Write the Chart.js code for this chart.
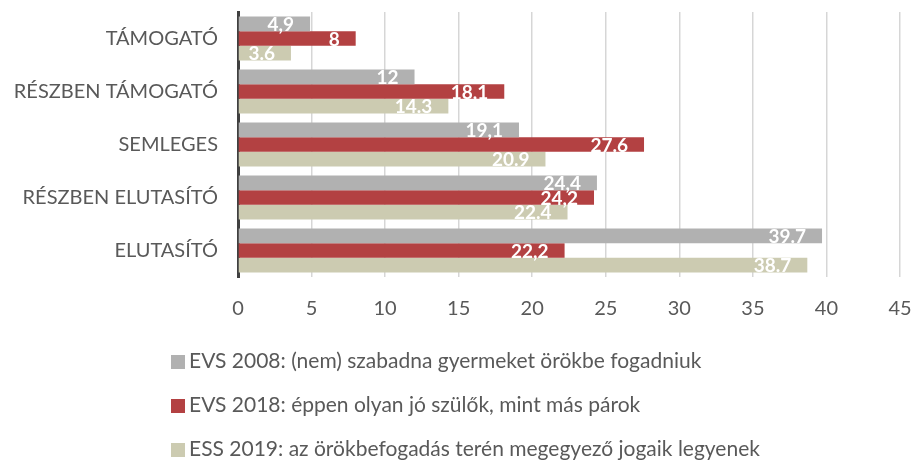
<!DOCTYPE html>
<html>
<head>
<meta charset="utf-8">
<script src="https://cdn.jsdelivr.net/npm/chart.js@4"></script>
<style>
  body { margin: 0; background: #fff; }
  .wrap { position: relative; width: 916px; height: 462px; }
  .legend { position: absolute; left: 171px; top: 348px; font-family: Lato, sans-serif; font-size: 21px; color: #595959; }
  .legend div { height: 24px; line-height: 24px; margin-bottom: 20px; white-space: nowrap; }
  .legend span { display: inline-block; width: 14px; height: 14px; margin-right: 4px; vertical-align: -1px; }
</style>
</head>
<body>
<div class="wrap">
  <canvas id="chart" width="916" height="462"></canvas>
  <div class="legend" id="legend"></div>
</div>
<script>
const categories = ['TÁMOGATÓ', 'RÉSZBEN TÁMOGATÓ', 'SEMLEGES', 'RÉSZBEN ELUTASÍTÓ', 'ELUTASÍTÓ'];
const evs2008 = [4.9, 12, 19.1, 24.4, 39.7];
const evs2018 = [8, 18.1, 27.6, 24.2, 22.2];
const ess2019 = [3.6, 14.3, 20.9, 22.4, 38.7];
// label text as printed in the source (mixed decimal marks)
const evs2008Text = ['4,9', '12', '19,1', '24,4', '39.7'];
const evs2018Text = ['8', '18,1', '27.6', '24,2', '22,2'];
const ess2019Text = ['3.6', '14.3', '20.9', '22.4', '38.7'];
const xTicks = [0, 5, 10, 15, 20, 25, 30, 35, 40, 45];

const series = [
  { name: 'EVS 2008: (nem) szabadna gyermeket örökbe fogadniuk', data: evs2008, text: evs2008Text, color: '#b1b1b1' },
  { name: 'EVS 2018: éppen olyan jó szülők, mint más párok', data: evs2018, text: evs2018Text, color: '#b34142' },
  { name: 'ESS 2019: az örökbefogadás terén megegyező jogaik legyenek', data: ess2019, text: ess2019Text, color: '#cccbb1' }
];

// white value labels, right aligned just inside the bar end
const barLabels = {
  id: 'barLabels',
  afterDraw(chart) {
    const ctx = chart.ctx;
    ctx.save();
    ctx.font = 'bold 19px Lato, sans-serif';
    ctx.fillStyle = '#ffffff';
    ctx.textAlign = 'right';
    ctx.textBaseline = 'middle';
    chart.data.datasets.forEach((ds, i) => {
      chart.getDatasetMeta(i).data.forEach((bar, j) => {
        ctx.fillText(series[i].text[j], bar.x - 16, bar.y + 1);
      });
    });
    ctx.restore();
  }
};

const ctx = document.getElementById('chart').getContext('2d');
new Chart(ctx, {
  type: 'bar',
  data: {
    labels: categories,
    datasets: series.map(s => ({
      label: s.name,
      data: s.data,
      backgroundColor: s.color,
      borderWidth: 0,
      categoryPercentage: 0.83,
      barPercentage: 1.0
    }))
  },
  options: {
    indexAxis: 'y',
    responsive: false,
    animation: false,
    layout: { padding: { top: 12, right: 16, bottom: 132, left: 0 } },
    plugins: {
      legend: { display: false },
      tooltip: { enabled: false }
    },
    scales: {
      x: {
        min: 0,
        max: 45,
        z: 1,
        afterBuildTicks: axis => { axis.ticks = xTicks.map(v => ({ value: v })); },
        afterFit: axis => {
          axis.height = 53;
          axis.paddingLeft = 0;
          axis.paddingRight = 0;
        },
        ticks: { color: '#595959', font: { family: 'Lato', size: 20 }, padding: 20 },
        grid: { color: 'rgba(0,0,0,0.16)', lineWidth: 1.5, drawTicks: false },
        border: { display: false }
      },
      y: {
        z: 2,
        afterFit: axis => {
          axis.width = 238;
          axis.paddingTop = 0;
          axis.paddingBottom = 0;
        },
        ticks: { color: '#595959', font: { family: 'Lato', size: 20 }, padding: 20 },
        grid: { display: false, drawTicks: false },
        border: { color: '#404040', width: 3 }
      }
    }
  },
  plugins: [barLabels]
});

document.getElementById('legend').innerHTML = series
  .map(s => `<div><span style="background:${s.color}"></span>${s.name}</div>`)
  .join('');
</script>
</body>
</html>
